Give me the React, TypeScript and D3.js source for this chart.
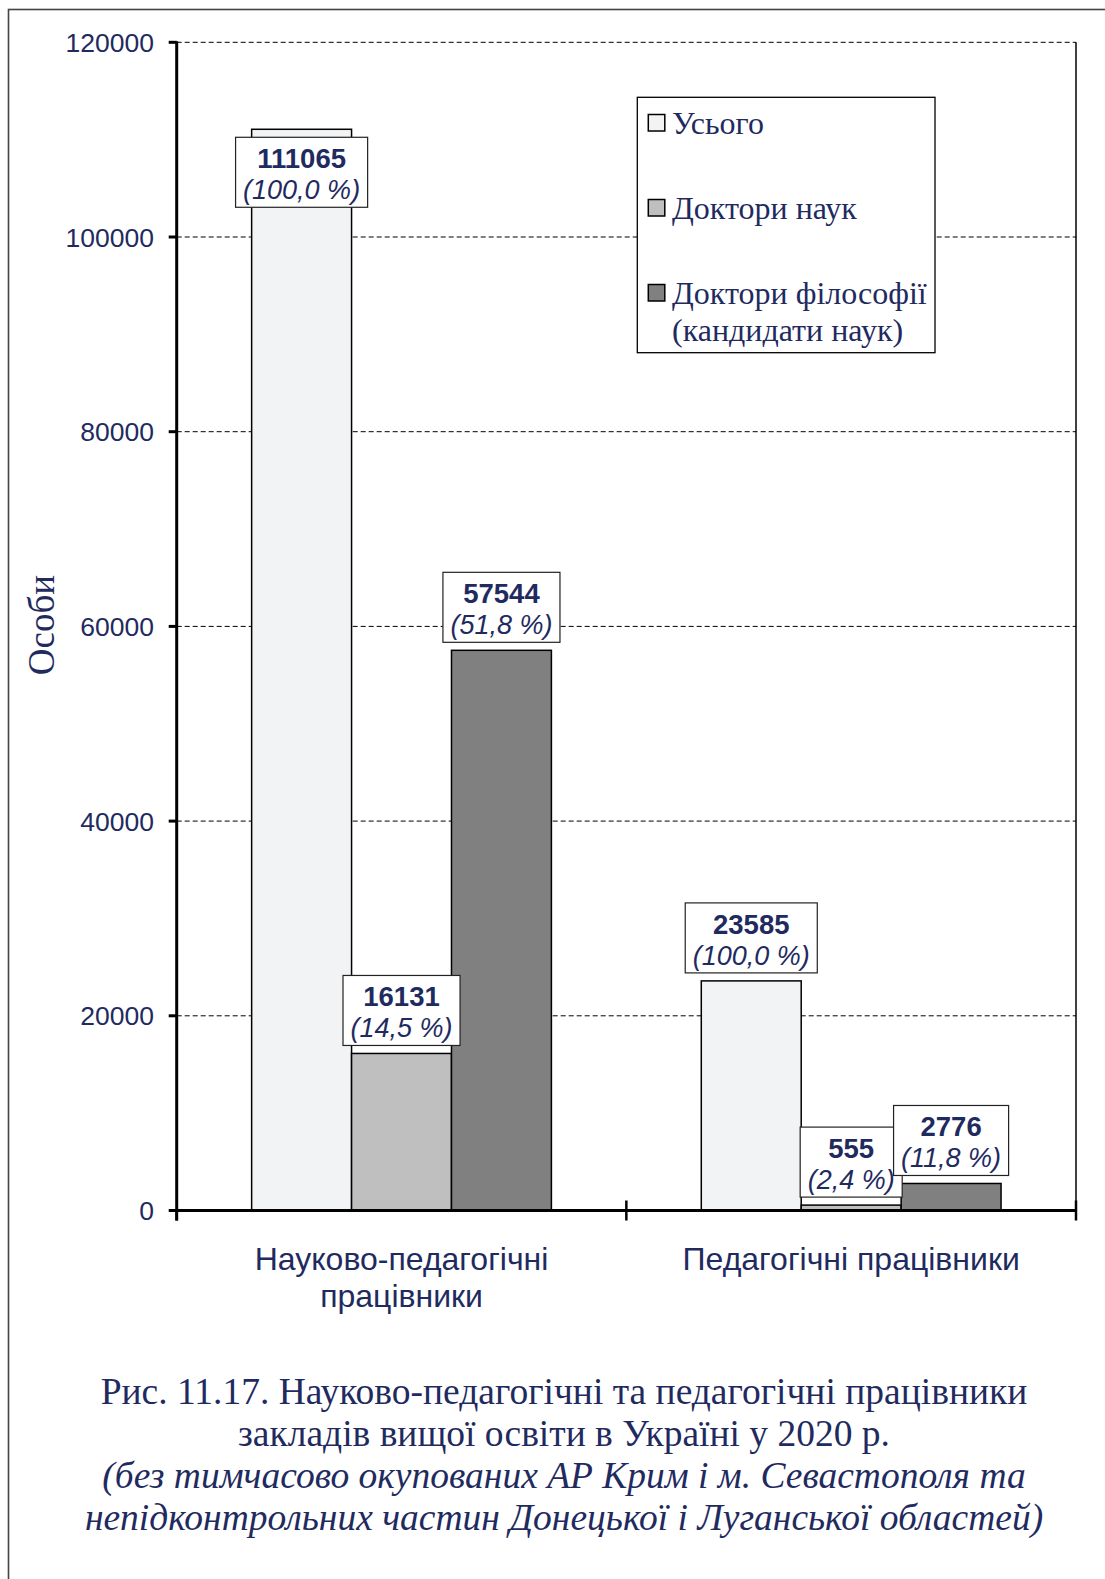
import React from 'react';
import * as d3 from 'd3';

const categoryLines: string[][] = [['Науково-педагогічні', 'працівники'], ['Педагогічні працівники']];
const categories = ['Науково-педагогічні працівники', 'Педагогічні працівники'];
const seriesNames = ['Усього', 'Доктори наук', 'Доктори філософії (кандидати наук)'];
const legendLines: string[][] = [['Усього'], ['Доктори наук'], ['Доктори філософії', '(кандидати наук)']];
const totalValues = [111065, 23585];
const doctorValues = [16131, 555];
const phdValues = [57544, 2776];
const totalPct = ['100,0 %', '100,0 %'];
const doctorPct = ['14,5 %', '2,4 %'];
const phdPct = ['51,8 %', '11,8 %'];
const totalLabelPos = ['inside', 'outside'];
const doctorLabelPos = ['outside', 'outside'];
const phdLabelPos = ['outside', 'outside'];
const yTicks = [0, 20000, 40000, 60000, 80000, 100000, 120000];
const yTitle = 'Особи';
const captionLines = [
  'Рис. 11.17. Науково-педагогічні та педагогічні працівники',
  'закладів вищої освіти в Україні у 2020 р.',
  '(без тимчасово окупованих АР Крим і м. Севастополя та',
  'непідконтрольних частин Донецької і Луганської областей)',
];
const captionItalic = [false, false, true, true];

const fills = ['#f2f3f5', '#bfbfbf', '#808080'];
const NAVY = '#1f2b5f';
const SANS = "'Liberation Sans', Arial, sans-serif";
const SERIF = "'Liberation Serif', 'Times New Roman', serif";

let ctx: CanvasRenderingContext2D | null = null;
function measure(text: string, font: string): number {
  if (!ctx) ctx = document.createElement('canvas').getContext('2d');
  if (!ctx) return text.length * 14;
  ctx.font = font;
  return ctx.measureText(text).width;
}

export default function App() {
  const W = 1105, H = 1579;
  const xL = 176.7, xR = 1076, yTop = 42.3, yBot = 1210.5;

  const y = d3.scaleLinear().domain([0, 120000]).range([yBot, yTop]);
  const x0 = d3.scaleBand<string>().domain(categories).range([xL, xR]).paddingInner(0).paddingOuter(0);
  const x1 = d3.scaleBand<string>().domain(seriesNames).range([0, x0.bandwidth()]).paddingInner(0).paddingOuter(0.75);

  const series = [
    { name: seriesNames[0], values: totalValues, pct: totalPct, pos: totalLabelPos, fill: fills[0] },
    { name: seriesNames[1], values: doctorValues, pct: doctorPct, pos: doctorLabelPos, fill: fills[1] },
    { name: seriesNames[2], values: phdValues, pct: phdPct, pos: phdLabelPos, fill: fills[2] },
  ];

  const numFs = 27.5;
  const pctFs = 27;
  const boxH = 70;
  const gap = 8;

  const bars: React.ReactNode[] = [];
  const labels: React.ReactNode[] = [];
  series.forEach((s, si) => {
    categories.forEach((c, ci) => {
      const v = s.values[ci];
      const bx = (x0(c) as number) + (x1(s.name) as number);
      const bw = x1.bandwidth();
      const by = y(v);
      bars.push(
        <rect key={`b${si}-${ci}`} x={bx} y={by} width={bw} height={yBot - by}
          fill={s.fill} stroke="#000" strokeWidth={1.5} />
      );
      const numText = d3.format('d')(v);
      const pctText = `(${s.pct[ci]})`;
      const wNum = measure(numText, `bold ${numFs}px ${SANS}`);
      const wPct = measure(pctText, `italic ${pctFs}px ${SANS}`);
      const boxW = Math.max(wNum, wPct) + 15;
      const cx = bx + bw / 2;
      const top = s.pos[ci] === 'inside' ? by + gap : by - gap - boxH;
      labels.push(
        <g key={`l${si}-${ci}`}>
          <rect x={cx - boxW / 2} y={top} width={boxW} height={boxH} fill="#fff" stroke="#222" strokeWidth={1.2} />
          <text x={cx} y={top + 31} textAnchor="middle" fontFamily={SANS} fontWeight="bold" fontSize={numFs} fill={NAVY}>{numText}</text>
          <text x={cx} y={top + 62} textAnchor="middle" fontFamily={SANS} fontStyle="italic" fontSize={pctFs} fill={NAVY}>{pctText}</text>
        </g>
      );
    });
  });

  const legX = 637.3, legY = 97.3, legW = 297.7, legH = 255.4;

  return (
    <svg width={W} height={H} style={{ position: 'absolute', left: 0, top: 0, background: '#fff' }}>
      <rect x={0} y={0} width={W} height={H} fill="#fff" />
      {/* outer frame */}
      <rect x={8.5} y={9.5} width={1300} height={1800} fill="none" stroke="#444" strokeWidth={1.6} />

      {/* gridlines */}
      {yTicks.filter(t => t > 0).map(t => (
        <line key={`g${t}`} x1={xL} x2={xR} y1={y(t)} y2={y(t)} stroke="#000" strokeWidth={1} strokeDasharray="5,3" />
      ))}
      {/* right border */}
      <line x1={xR} x2={xR} y1={yTop} y2={yBot} stroke="#000" strokeWidth={1.5} />

      {bars}

      {/* y axis */}
      <line x1={xL} x2={xL} y1={yTop - 1} y2={yBot + 10} stroke="#000" strokeWidth={3} />
      {yTicks.map(t => (
        <g key={`t${t}`}>
          <line x1={xL - 8} x2={xL} y1={y(t)} y2={y(t)} stroke="#000" strokeWidth={3} />
          <text x={154} y={y(t)} dy="0.36em" textAnchor="end" fontFamily={SANS} fontSize={26.5} fill={NAVY}>{t}</text>
        </g>
      ))}
      {/* x axis */}
      <line x1={xL} x2={xR} y1={yBot} y2={yBot} stroke="#000" strokeWidth={3} />
      {[xL, ...categories.map(c => (x0(c) as number) + x0.bandwidth())].map((xx, i) => (
        <line key={`xt${i}`} x1={xx} x2={xx} y1={i === 0 ? yBot : yBot - 10} y2={yBot + 10} stroke="#000" strokeWidth={2.5} />
      ))}

      {labels}

      {/* category labels */}
      {categories.map((c, ci) => (
        <text key={`c${ci}`} textAnchor="middle" fontFamily={SANS} fontSize={32} fill={NAVY}>
          {categoryLines[ci].map((ln, li) => (
            <tspan key={li} x={(x0(c) as number) + x0.bandwidth() / 2} y={1270 + li * 37}>{ln}</tspan>
          ))}
        </text>
      ))}

      {/* y title */}
      <text transform={`translate(54,625) rotate(-90)`} textAnchor="middle" fontFamily={SERIF} fontSize={37} fill={NAVY}>{yTitle}</text>

      {/* legend */}
      <rect x={legX} y={legY} width={legW} height={legH} fill="#fff" stroke="#000" strokeWidth={1.3} />
      {legendLines.map((lines, i) => {
        const sy = 114.5 + i * 85;
        return (
          <g key={`lg${i}`}>
            <rect x={648.3} y={sy} width={16.5} height={16.5} fill={fills[i]} stroke="#000" strokeWidth={1.5} />
            <text fontFamily={SERIF} fontSize={32} fill={NAVY}>
              {lines.map((ln, li) => (
                <tspan key={li} x={672} y={sy + 19 + li * 37}>{ln}</tspan>
              ))}
            </text>
          </g>
        );
      })}

      {/* caption */}
      {captionLines.map((ln, i) => (
        <text key={`cap${i}`} x={564} y={1404 + i * 42} textAnchor="middle" fontFamily={SERIF}
          fontStyle={captionItalic[i] ? 'italic' : 'normal'} fontSize={37.5} fill={NAVY}>{ln}</text>
      ))}
    </svg>
  );
}
